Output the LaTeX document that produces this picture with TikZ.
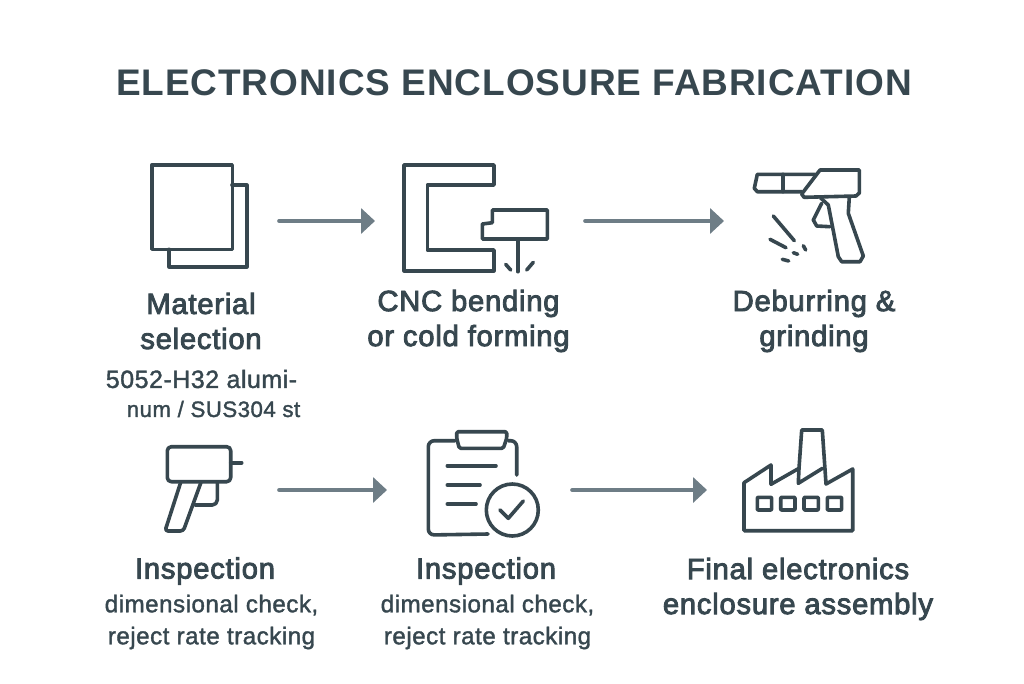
\documentclass[tikz,border=0pt]{standalone}
\usepackage{fontspec}
\setmainfont{Liberation Sans}
\newfontfamily\titlefont[LetterSpace=2.5]{Liberation Sans}
\newfontfamily\labelfont[FakeBold=3,LetterSpace=2.6]{Liberation Sans}
\newfontfamily\smallfont[FakeBold=1.5,LetterSpace=2]{Liberation Sans}
\usetikzlibrary{arrows.meta}
\definecolor{ink}{HTML}{37474F}
\definecolor{arrowgray}{HTML}{6E7D86}
\tikzset{
  icon/.style={draw=ink,line width=3.6pt,line join=round,line cap=round},
  flow/.style={draw=arrowgray,line width=3.6pt,line cap=round,-{Triangle[length=14pt,width=25pt]}},
  heading/.style={text=ink,align=center,font=\labelfont\fontsize{29.2}{35}\selectfont,inner sep=0pt},
  small/.style={text=ink,align=center,font=\smallfont\fontsize{24.2}{32}\selectfont,inner sep=0pt},
}
\begin{document}
\begin{tikzpicture}[x=1pt,y=-1pt]
\useasboundingbox[fill=white] (0,0) rectangle (1024,683);
\node[text=ink,inner sep=0pt,font=\titlefont\bfseries\fontsize{37}{40}\selectfont] (title) at (514,83) {ELECTRONICS ENCLOSURE FABRICATION};
% sheets
\draw[icon] (232,185) -- (246.7,185) -- (246.7,266.7) -- (169,266.7) -- (169,249.3);
\draw[icon] (151.7,165) rectangle (232.3,249.3);
% bending
\draw[icon] (404,165) -- (494,165) -- (494,185) -- (427.3,185) -- (427.3,250) -- (494,250) -- (494,270.7) -- (404,270.7) -- cycle;
\draw[icon] (492.3,210) -- (547.3,210) -- (547.3,239) -- (482.3,239) -- (482.3,224) -- (492.3,222.7) -- cycle;
\draw[icon] (517.7,239) -- (517.7,271.7);
\draw[icon] (505.7,264.3) -- (510.7,270);
\draw[icon] (533.3,262.3) -- (526.7,270);
% deburring gun
\draw[icon] (815,174.3) -- (757.3,174.3) -- (754.3,188.3) -- (757.3,191.7) -- (801.7,191.7);
\draw[icon] (782.7,174.3) -- (782.7,191.7);
\draw[icon] (820,170) -- (859.3,170) -- (859.3,193) -- (856,196) -- (804,197.3) -- (801.7,194) -- cycle;
\draw[icon] (820.7,198) -- (828.3,205) -- (838.3,256.7) -- (841.7,261.7) -- (860,261.7) -- (863.3,256) -- (848.3,213.3) -- (849.3,197);
\draw[icon] (821.7,203.3) -- (813.3,220) -- (816.7,226) -- (830,226.7);
\draw[icon] (773.3,216) -- (794.3,240.7);
\draw[icon] (770,239.3) -- (786,247.7);
\draw[icon] (793.3,252.7) -- (797.7,254.3);
\draw[icon] (803.3,245.7) -- (805.7,250);
\draw[icon] (782.3,259.3) -- (788.7,261);
% inspection gun
\draw[icon,rounded corners=4pt] (167.3,446.7) rectangle (230.7,481.7);
\draw[icon] (230.7,462.7) -- (241.7,462.7);
\draw[icon,rounded corners=3pt] (180.7,482.3) -- (165,531) -- (183.3,531) -- (201,482.3);
\draw[icon,rounded corners=5pt] (217.3,482.3) -- (217.3,505) -- (195,505);
% clipboard
\draw[icon,rounded corners=6pt] (455,440.7) -- (428.3,440.7) -- (428.3,535) -- (488,534);
\draw[icon,rounded corners=6pt] (508.3,440.7) -- (516.7,440.7) -- (516.7,475);
\draw[icon,rounded corners=1.5pt] (456.7,431.7) -- (506.7,431.7) -- (506.7,438.3) -- (503.3,448.3) -- (459.3,448.3) -- (456.7,438.3) -- cycle;
\draw[icon] (447.3,465.7) -- (496,465.7);
\draw[icon] (447.3,485) -- (480,485);
\draw[icon] (447.3,504) -- (476,504);
\draw[icon] (512.3,510) circle (26pt);
\draw[icon] (500,510) -- (508.3,518.3) -- (523.3,501);
% factory
\draw[icon] (744,530.7) -- (744,482.7) -- (771,465) -- (771,484.3) -- (799,468.3) -- (801.7,430) -- (822.3,430) -- (826,484) -- (852.7,469) -- (852.7,530.7) -- cycle;
\draw[icon] (799,468.3) -- (798.3,483.3) -- (822.5,468.3);
\foreach \wx in {757.3,780.7,804,827.3}{
  \draw[icon,rounded corners=0.8pt] (\wx,497.3) rectangle ++(14.3,12.7);
}
% arrow endpoints
\coordinate (a1s) at (279,221); \coordinate (a1e) at (375,221);
\coordinate (a2s) at (585,221); \coordinate (a2e) at (724,221);
\coordinate (a3s) at (279,490); \coordinate (a3e) at (387,490);
\coordinate (a4s) at (572,490); \coordinate (a4e) at (707,490);
\draw[flow] (a1s) -- (a1e);
\draw[flow] (a2s) -- (a2e);
\draw[flow] (a3s) -- (a3e);
\draw[flow] (a4s) -- (a4e);
% labels
\node[heading] (t1) at (201,321) {Material\\selection};
\node[small,font=\smallfont\fontsize{25}{32}\selectfont] (s1a) at (201.5,379) {5052-H32 alumi-};
\node[small,font=\smallfont\fontsize{22.3}{32}\selectfont] (s1b) at (213.5,409) {num / SUS304 st};
\node[heading] (t2) at (468.5,321) {CNC bending\\or cold forming};
\node[heading] (t3) at (814,321) {Deburring \&\\grinding};
\node[heading] (t4) at (205,571) {Inspection};
\node[small] (s4) at (211.5,622) {dimensional check,\\reject rate tracking};
\node[heading] (t5) at (486,571) {Inspection};
\node[small] (s5) at (487.5,622) {dimensional check,\\reject rate tracking};
\node[heading] (t6) at (798,589) {Final electronics\\enclosure assembly};
\end{tikzpicture}
\end{document}
